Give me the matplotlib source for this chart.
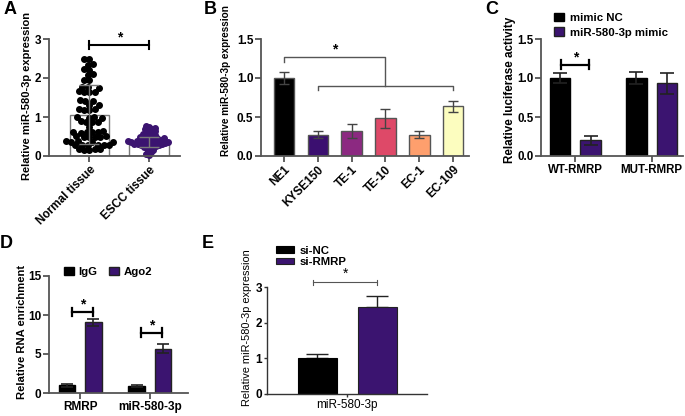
import numpy as np
import matplotlib
matplotlib.use('Agg')
import matplotlib.pyplot as plt

plt.rcParams['font.family'] = ['Liberation Sans', 'DejaVu Sans']

# ---------------- data ----------------
a_groups = ['Normal tissue', 'ESCC tissue']
a_normal = [2.50, 2.50, 2.36, 2.34, 2.22, 2.21, 2.09, 2.07, 1.96, 1.94,
            1.77, 1.76, 1.75, 1.66, 1.65, 1.64, 1.63, 1.43, 1.42, 1.41,
            1.32, 1.30, 1.21, 1.20, 1.19, 1.18, 1.00, 0.99, 0.98, 0.97,
            0.89, 0.88, 0.87, 0.86, 0.75, 0.63, 0.62, 0.61, 0.60, 0.62, 0.61,
            0.51, 0.50, 0.49, 0.50, 0.51, 0.49, 0.38, 0.37, 0.36, 0.37, 0.38,
            0.29, 0.28, 0.27, 0.28, 0.29, 0.27, 0.18, 0.17, 0.16, 0.17, 0.15]
a_escc = [0.78, 0.75, 0.72, 0.70, 0.68, 0.66, 0.63, 0.61, 0.59, 0.57,
          0.55, 0.53, 0.51, 0.50, 0.48, 0.47, 0.46, 0.45, 0.44, 0.43,
          0.42, 0.41, 0.40, 0.39, 0.38, 0.38, 0.37, 0.36, 0.36, 0.35,
          0.35, 0.34, 0.34, 0.33, 0.32, 0.32, 0.31, 0.30, 0.29, 0.28,
          0.27, 0.26, 0.25, 0.23, 0.21, 0.19, 0.16, 0.13, 0.10, 0.06, 0.03]
a_means = [1.06, 0.36]
a_sd = [0.75, 0.14]

b_lines = ['NE1', 'KYSE150', 'TE-1', 'TE-10', 'EC-1', 'EC-109']
b_vals = [1.0, 0.275, 0.32, 0.485, 0.275, 0.635]
b_err = [0.08, 0.05, 0.09, 0.12, 0.045, 0.075]
b_colors = ['#000000', '#3b0f70', '#8c2981', '#de4968', '#fe9f6d', '#fcfdbf']

c_groups = ['WT-RMRP', 'MUT-RMRP']
c_series = ['mimic NC', 'miR-580-3p mimic']
c_nc = [1.0, 1.0]
c_nc_err = [0.07, 0.08]
c_mimic = [0.2, 0.93]
c_mimic_err = [0.06, 0.13]

d_groups = ['RMRP', 'miR-580-3p']
d_series = ['IgG', 'Ago2']
d_igg = [1.0, 0.95]
d_igg_err = [0.2, 0.12]
d_ago2 = [9.1, 5.7]
d_ago2_err = [0.45, 0.62]

e_group = ['miR-580-3p']
e_series = ['si-NC', 'si-RMRP']
e_vals = [1.0, 2.45]
e_err = [0.11, 0.30]

PURPLE = '#3b1470'
GRAY = '#555555'

W, H = 685, 416
fig = plt.figure(figsize=(W / 100, H / 100), dpi=100)


def ax_px(l, t, r, b):
    return fig.add_axes([l / W, 1 - b / H, (r - l) / W, (b - t) / H])


def style(ax, color=GRAY, lw=1.3, size=8.5, weight='bold', length=4, pad=1.5):
    for s in ['top', 'right']:
        ax.spines[s].set_visible(False)
    for s in ['left', 'bottom']:
        ax.spines[s].set_linewidth(lw)
        ax.spines[s].set_color(color)
    ax.tick_params(width=lw, length=length, color=color, labelsize=size, pad=pad)
    for lab in ax.get_yticklabels():
        lab.set_fontweight(weight)


def ylabel(x, y, text, size, weight='bold'):
    fig.text(x / W, 1 - y / H, text, rotation=90, ha='center', va='center',
             fontsize=size, fontweight=weight)


def letter(x, y, t):
    fig.text(x / W, 1 - y / H, t, ha='center', va='center', fontsize=13,
             fontweight='bold')


def beeswarm(vals, ypx, d):
    vals = np.asarray(vals, float)
    order = np.argsort(vals, kind='stable')
    placed = []
    xs = np.zeros(len(vals))
    for i in order:
        y = vals[i] * ypx
        cands = [0.0]
        for (px, py) in placed:
            dy = abs(y - py)
            if dy < d:
                dx = np.sqrt(d * d - dy * dy)
                cands += [px + dx, px - dx]
        cands = sorted(cands, key=lambda c: (abs(c), c))
        for c in cands:
            if all((c - px) ** 2 + (y - py) ** 2 >= d * d - 1e-6 for px, py in placed):
                xs[i] = c
                break
        placed.append((xs[i], y))
    return xs


# ---------------- Panel A ----------------
axA = ax_px(49, 39, 180, 156)
xpx_a = 59.5
axA.bar([0, 1], a_means, width=0.67, color='white', edgecolor='#7a7a7a', lw=1, zorder=1)
offN = beeswarm(a_normal, 39, 5.4) / xpx_a
offE = beeswarm(a_escc, 39, 3.3) / xpx_a
axA.plot(0 + offN, a_normal, 'o', color='black', ms=4.0, zorder=2, clip_on=False)
axA.plot(1 + offE, a_escc, 'o', color=PURPLE, ms=4.0, zorder=2, clip_on=False)
axA.errorbar([0, 1], a_means, yerr=a_sd, fmt='none', ecolor='#7a7a7a', elinewidth=1,
             capsize=7, capthick=1, zorder=3)
axA.set_xlim(-0.68, 1.52)
axA.set_ylim(0, 3)
axA.set_yticks([0, 1, 2, 3])
axA.set_xticks([0, 1])
axA.set_xticklabels(a_groups, rotation=45, ha='right', rotation_mode='anchor',
                    fontweight='bold', fontsize=8.5)
style(axA)
axA.plot([0, 1], [2.85, 2.85], color='black', lw=1.5, clip_on=False)
for xx in [0, 1]:
    axA.plot([xx, xx], [2.75, 2.95], color='black', lw=1.5, clip_on=False)
axA.text(0.5, 2.86, '*', ha='center', va='bottom', fontsize=10, fontweight='bold')
ylabel(27, 96, 'Relative miR-580-3p expression', 8.0)
letter(10, 9, 'A')

# ---------------- Panel B ----------------
axB = ax_px(261, 39, 469, 156)
xb = np.arange(len(b_lines))
axB.bar(xb, b_vals, width=0.61, color=b_colors, edgecolor=GRAY, lw=1, zorder=2)
axB.errorbar(xb, b_vals, yerr=b_err, fmt='none', ecolor='#444444', elinewidth=1,
             capsize=3.6, capthick=1, zorder=3)
axB.set_xlim(-0.68, 5.47)
axB.set_ylim(0, 1.5)
axB.set_yticks([0, 0.5, 1.0, 1.5])
axB.set_yticklabels(['0.0', '0.5', '1.0', '1.5'])
axB.set_xticks(xb)
axB.set_xticklabels(b_lines, rotation=45, ha='right', rotation_mode='anchor',
                    fontweight='bold', fontsize=8.5)
style(axB)
axB.plot([0, 0, 3, 3], [1.21, 1.27, 1.27, 0.9], color=GRAY, lw=1, clip_on=False)
axB.plot([1, 1, 5, 5], [0.84, 0.9, 0.9, 0.84], color=GRAY, lw=1, clip_on=False)
axB.text(1.5, 1.28, '*', ha='center', va='bottom', fontsize=10, fontweight='bold')
ylabel(226, 81, 'Relative miR-580-3p expression', 7.2)
letter(210, 9, 'B')

# ---------------- Panel C ----------------
axC = ax_px(541, 39, 683, 156)
xc = np.arange(len(c_groups))
axC.bar(xc - 0.2, c_nc, width=0.27, color='black', edgecolor='black', lw=1, zorder=2,
        label=c_series[0])
axC.bar(xc + 0.2, c_mimic, width=0.27, color=PURPLE, edgecolor='#222222', lw=1, zorder=2,
        label=c_series[1])
axC.errorbar(xc - 0.2, c_nc, yerr=c_nc_err, fmt='none', ecolor='#222222', elinewidth=1.2,
             capsize=4.8, capthick=1.2, zorder=3)
axC.errorbar(xc + 0.2, c_mimic, yerr=c_mimic_err, fmt='none', ecolor='#222222',
             elinewidth=1.2, capsize=4.8, capthick=1.2, zorder=3)
axC.set_xlim(-0.45, 1.41)
axC.set_ylim(0, 1.5)
axC.set_yticks([0, 0.5, 1.0, 1.5])
axC.set_yticklabels(['0.0', '0.5', '1.0', '1.5'])
axC.set_xticks(xc)
axC.set_xticklabels(c_groups, fontweight='bold', fontsize=8.8)
style(axC, size=8.3)
axC.plot([-0.19, 0.18], [1.17, 1.17], color='black', lw=1.6, clip_on=False)
for xx in [-0.19, 0.18]:
    axC.plot([xx, xx], [1.11, 1.23], color='black', lw=1.6, clip_on=False)
axC.text(0.0, 1.17, '*', ha='center', va='bottom', fontsize=10, fontweight='bold')
ylabel(510, 90, 'Relative luciferase activity', 8.4)
letter(492, 10, 'C')
axC.legend(loc='upper left', bbox_to_anchor=(548 / W, 1 - 7 / H), bbox_transform=fig.transFigure,
           frameon=False, borderpad=0, handlelength=0.9, handleheight=0.75,
           handletextpad=0.5, labelspacing=0.4, prop={'weight': 'bold', 'size': 8.2})

# ---------------- Panel D ----------------
axD = ax_px(49, 276, 188, 393)
xd = np.arange(len(d_groups))
axD.bar(xd - 0.19, d_igg, width=0.24, color='black', edgecolor='black', lw=1, zorder=2,
        label=d_series[0])
axD.bar(xd + 0.19, d_ago2, width=0.24, color=PURPLE, edgecolor='#222222', lw=1, zorder=2,
        label=d_series[1])
axD.errorbar(xd - 0.19, d_igg, yerr=d_igg_err, fmt='none', ecolor='#222222', elinewidth=1.2,
             capsize=4.3, capthick=1.2, zorder=3)
axD.errorbar(xd + 0.19, d_ago2, yerr=d_ago2_err, fmt='none', ecolor='#222222',
             elinewidth=1.2, capsize=4.3, capthick=1.2, zorder=3)
axD.set_xlim(-0.45, 1.55)
axD.set_ylim(0, 15)
axD.set_yticks([0, 5, 10, 15])
axD.set_xticks(xd)
axD.set_xticklabels(d_groups, fontweight='bold', fontsize=8.5)
style(axD)
for g, yb in zip(xd, [10.4, 7.74]):
    x0, x1 = g - 0.12, g + 0.18
    axD.plot([x0, x1], [yb, yb], color='black', lw=1.6, clip_on=False)
    for xx in [x0, x1]:
        axD.plot([xx, xx], [yb - 0.55, yb + 0.55], color='black', lw=1.6, clip_on=False)
    axD.text((x0 + x1) / 2, yb, '*', ha='center', va='bottom', fontsize=10, fontweight='bold')
ylabel(22, 332, 'Relative RNA enrichment', 8.1)
letter(6, 244, 'D')
axD.legend(loc='upper left', bbox_to_anchor=(58 / W, 1 - 261 / H), bbox_transform=fig.transFigure,
           ncol=2, frameon=False, borderpad=0, handlelength=0.9, handleheight=0.75,
           handletextpad=0.4, columnspacing=1.0, prop={'weight': 'bold', 'size': 8.2})

# ---------------- Panel E ----------------
axE = ax_px(267, 287, 427, 394)
xpx_e = 100.0
axE.bar([-0.3], [e_vals[0]], width=0.39, color='black', edgecolor='black', lw=0.8,
        zorder=2, label=e_series[0])
axE.bar([0.3], [e_vals[1]], width=0.39, color=PURPLE, edgecolor='#222222', lw=0.8,
        zorder=2, label=e_series[1])
axE.errorbar([-0.3, 0.3], e_vals, yerr=[[0, 0], e_err], fmt='none', ecolor='#222222',
             elinewidth=1, capsize=7.8, capthick=1, zorder=1)
axE.set_xlim(-(347.3 - 267) / xpx_e, (427 - 347.3) / xpx_e)
axE.set_ylim(0, 3)
axE.set_yticks([0, 1, 2, 3])
axE.set_xticks([0])
axE.set_xticklabels(e_group, fontsize=8.3)
style(axE, color='#333333', lw=1.0, size=8.5, length=2.5, pad=1)
axE.plot([-0.34, 0.3], [3.14, 3.14], color=GRAY, lw=0.8, clip_on=False)
for xx in [-0.34, 0.3]:
    axE.plot([xx, xx], [3.07, 3.21], color=GRAY, lw=0.8, clip_on=False)
axE.text(-0.02, 3.17, '*', ha='center', va='bottom', fontsize=10)
ylabel(247, 328, 'Relative miR-580-3p expression', 7.9, weight='normal')
letter(208, 244, 'E')
axE.legend(loc='upper left', bbox_to_anchor=(270 / W, 1 - 240 / H), bbox_transform=fig.transFigure,
           frameon=False, borderpad=0, handlelength=1.6, handleheight=0.55,
           handletextpad=0.5, labelspacing=0.12, prop={'weight': 'bold', 'size': 8.2})

fig.savefig('out.png', dpi=100)
